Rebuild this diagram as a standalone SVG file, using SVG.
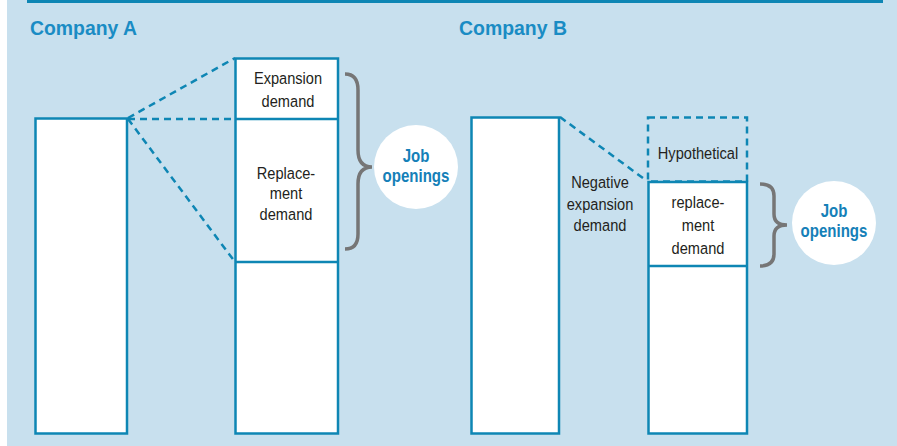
<svg xmlns="http://www.w3.org/2000/svg" width="897" height="446" viewBox="0 0 897 446">
<style>
.bar{fill:#fff;stroke:#0e86b4;stroke-width:2.5}
.div{stroke:#0e86b4;stroke-width:2.5;fill:none}
.dash{stroke:#0e86b4;stroke-width:2.5;fill:none;stroke-dasharray:7 5}
.brace{stroke:#767676;stroke-width:3.5;fill:none}
.t{font-family:"Liberation Sans",Arial,sans-serif;font-size:17px;fill:#231f20;text-anchor:middle}
.title{font-family:"Liberation Sans",Arial,sans-serif;font-size:21px;font-weight:bold;fill:#1a8cc4}
.job{font-family:"Liberation Sans",Arial,sans-serif;font-size:17.5px;font-weight:bold;fill:#1580b8;text-anchor:middle}
</style>
<rect x="7" y="0" width="890" height="446" fill="#c8e0ee"/>
<rect x="27" y="0" width="856" height="3" fill="#0e86b4"/>
<text class="title" x="30" y="35" textLength="107" lengthAdjust="spacingAndGlyphs">Company A</text>
<text class="title" x="459" y="35" textLength="108" lengthAdjust="spacingAndGlyphs">Company B</text>

<g id="connectors">
<line class="dash" x1="128" y1="118" x2="235" y2="58"/>
<line class="dash" x1="128" y1="119" x2="235" y2="119"/>
<line class="dash" x1="128" y1="119" x2="235" y2="262"/>
<line class="dash" x1="560" y1="117" x2="647" y2="181"/>
</g>

<g id="a-left"><rect class="bar" x="35.5" y="118.5" width="91.5" height="315"/></g>
<g id="a-right">
<rect class="bar" x="235.5" y="58.5" width="102.5" height="375"/>
<line class="div" x1="235.5" y1="119" x2="338" y2="119"/>
<line class="div" x1="235.5" y1="262" x2="338" y2="262"/>
</g>
<g id="a-expansion" transform="translate(288,0) scale(0.86,1)">
<text class="t" x="0" y="84">Expansion</text>
<text class="t" x="0" y="107">demand</text>
</g>
<g id="a-replacement" transform="translate(286,0) scale(0.86,1)">
<text class="t" x="0" y="179">Replace-</text>
<text class="t" x="0" y="199">ment</text>
<text class="t" x="0" y="220">demand</text>
</g>
<g id="a-brace">
<path class="brace" d="M345,74 Q358,74 358,90 L358,150 Q358,167 372,167 Q358,167 358,184 L358,234 Q358,249 345,249"/>
</g>
<g id="a-jobs">
<circle cx="416" cy="167" r="42" fill="#fff"/>
<g transform="translate(416,0) scale(0.86,1)">
<text class="job" x="0" y="162">Job</text>
<text class="job" x="0" y="182">openings</text>
</g>
</g>

<g id="b-left"><rect class="bar" x="471.5" y="117.5" width="87.5" height="316"/></g>
<g id="b-hypothetical">
<rect x="648" y="117.5" width="99" height="64" fill="#fff" class="dash"/>
<text class="t" x="0" y="159" transform="translate(698,0) scale(0.86,1)">Hypothetical</text>
</g>
<g id="b-right">
<rect class="bar" x="648.5" y="182" width="98.5" height="251.5"/>
<line class="div" x1="648.5" y1="266" x2="747" y2="266"/>
<g transform="translate(698,0) scale(0.86,1)">
<text class="t" x="0" y="208">replace-</text>
<text class="t" x="0" y="231">ment</text>
<text class="t" x="0" y="254">demand</text>
</g>
</g>
<g id="b-negative" transform="translate(600,0) scale(0.86,1)">
<text class="t" x="0" y="188">Negative</text>
<text class="t" x="0" y="210">expansion</text>
<text class="t" x="0" y="231">demand</text>
</g>
<g id="b-brace">
<path class="brace" d="M760,184 Q774,184 774,196 L774,214 Q774,225 787,225 Q774,225 774,236 L774,254 Q774,266 760,266"/>
</g>
<g id="b-jobs">
<circle cx="834" cy="223" r="42" fill="#fff"/>
<g transform="translate(834,0) scale(0.86,1)">
<text class="job" x="0" y="217">Job</text>
<text class="job" x="0" y="237">openings</text>
</g>
</g>
</svg>
